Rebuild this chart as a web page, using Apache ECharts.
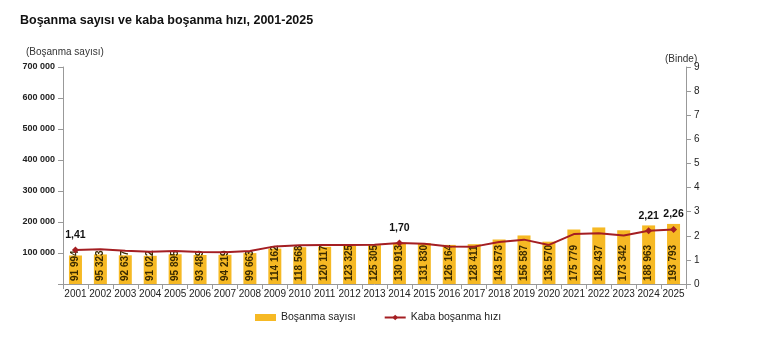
<!DOCTYPE html>
<html><head><meta charset="utf-8">
<script src="https://cdn.jsdelivr.net/npm/echarts@6/dist/echarts.min.js"></script>
<style>html,body{margin:0;padding:0;background:#fff}#c{width:770px;height:342px}</style>
</head><body><div id="c"></div>
<script>
const years = ['2001','2002','2003','2004','2005','2006','2007','2008','2009','2010','2011','2012','2013','2014','2015','2016','2017','2018','2019','2020','2021','2022','2023','2024','2025'];
const divorces = [91994,95323,92637,91022,95895,93489,94219,99663,114162,118568,120117,123325,125305,130913,131830,126164,128411,143573,156587,136570,175779,182437,173342,188963,193793];
const crudeRate = [1.41,1.44,1.38,1.34,1.37,1.33,1.32,1.37,1.56,1.61,1.62,1.62,1.63,1.70,1.67,1.56,1.55,1.74,1.84,1.62,2.07,2.10,2.01,2.21,2.26];
const labeledYears = ['2001','2014','2024','2025'];
const leftTicks = [0,100000,200000,300000,400000,500000,600000,700000];
const rightTicks = [0,1,2,3,4,5,6,7,8,9];

function fmt(v){return String(v).replace(/\B(?=(\d{3})+(?!\d))/g,' ');}
const chart = echarts.init(document.getElementById('c'));
const font = 'Arial, "Liberation Sans", sans-serif';
chart.setOption({
  animation:false,
  textStyle:{fontFamily:font},
  title:{text:'Boşanma sayısı ve kaba boşanma hızı, 2001-2025',left:15,top:9,
    textStyle:{fontSize:12.5,fontWeight:'bold',color:'#111',fontFamily:font}},
  graphic:[
    {type:'text',left:26,top:47,style:{text:'(Boşanma sayısı)',fontSize:10,fill:'#333',fontFamily:font}},
    {type:'text',left:665,top:54,style:{text:'(Binde)',fontSize:10,fill:'#333',fontFamily:font}}
  ],
  legend:{bottom:14,left:250,itemGap:28,itemWidth:21,itemHeight:7,
    textStyle:{fontSize:10.5,color:'#222',fontFamily:font},
    data:[{name:'Boşanma sayısı',icon:'rect'},{name:'Kaba boşanma hızı'}]},
  grid:{left:63,right:84,top:67,bottom:58},
  xAxis:{type:'category',data:years,
    axisLine:{lineStyle:{color:'#999'}},
    axisTick:{show:true,alignWithLabel:false,lineStyle:{color:'#999'}},
    axisLabel:{fontSize:10,color:'#222',margin:5,interval:0}},
  yAxis:[
    {type:'value',min:0,max:700000,interval:100000,position:'left',
     axisLine:{show:true,lineStyle:{color:'#999'}},axisTick:{show:true,lineStyle:{color:'#999'}},
     splitLine:{show:false},
     axisLabel:{fontSize:9,color:'#222',fontWeight:'bold',formatter:v=>v===0?'':fmt(v)}},
    {type:'value',min:0,max:9,interval:1,position:'right',
     axisLine:{show:true,lineStyle:{color:'#999'}},axisTick:{show:true,lineStyle:{color:'#999'}},
     splitLine:{show:false},
     axisLabel:{fontSize:10,color:'#222'}}
  ],
  series:[
    {name:'Boşanma sayısı',type:'bar',data:divorces,barWidth:13,
     itemStyle:{color:'#F6B924'},
     label:{show:true,position:'insideBottom',rotate:90,align:'left',verticalAlign:'middle',distance:3,
       fontSize:10,fontWeight:'bold',color:'#3a2a00',formatter:p=>fmt(p.value)}},
    {name:'Kaba boşanma hızı',type:'line',yAxisIndex:1,
     data:crudeRate.map((v,i)=>({value:v,
       symbolSize:labeledYears.includes(years[i])?7:0,
       label:{show:labeledYears.includes(years[i])}})),
     symbol:'diamond',
     lineStyle:{color:'#A41E22',width:2},itemStyle:{color:'#A41E22'},
     label:{position:'top',distance:6,fontSize:10.5,fontWeight:'bold',color:'#111',
       formatter:p=>p.value.toFixed(2).replace('.',',')}}
  ]
});
</script></body></html>
